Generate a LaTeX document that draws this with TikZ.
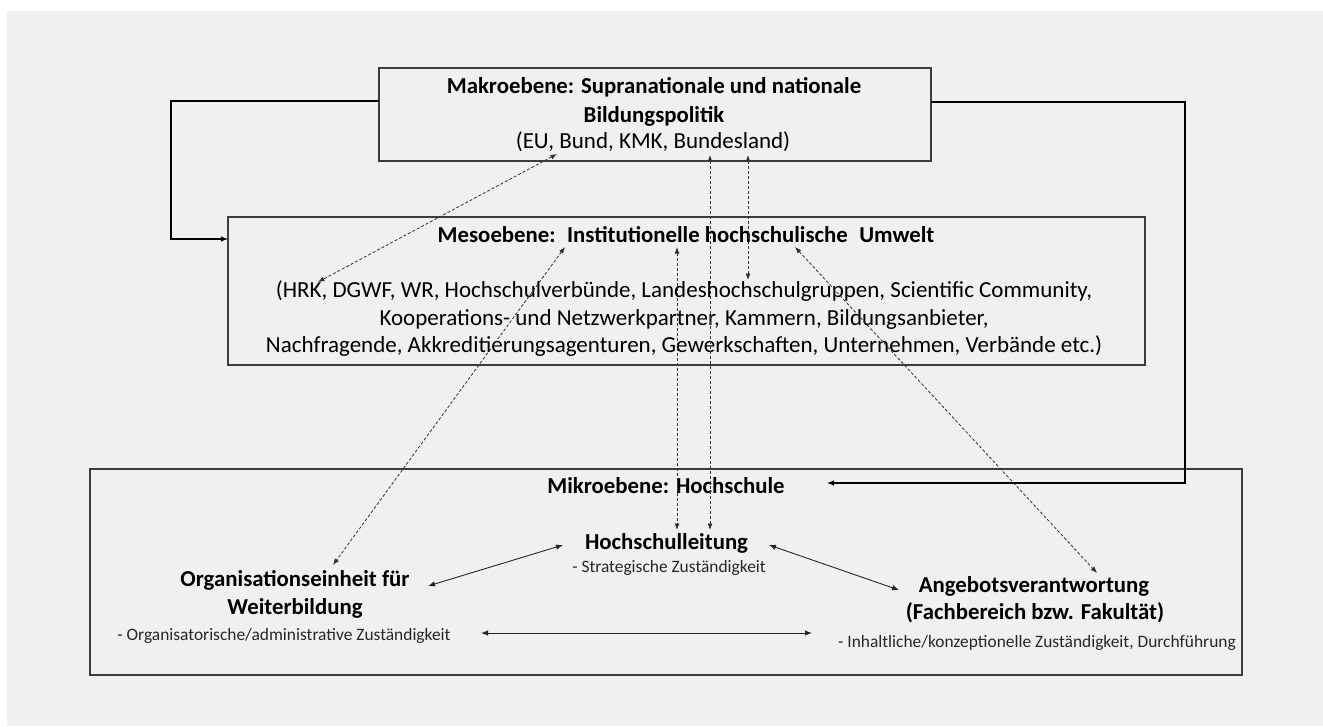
\documentclass[tikz,border=0pt]{standalone}
\usepackage{fontspec}
\setmainfont{Carlito}
\usetikzlibrary{arrows.meta}
\definecolor{bg}{HTML}{F0F0F0}
\definecolor{edge}{HTML}{3C3C3C}
\definecolor{dash}{HTML}{303030}
\begin{document}
\begin{tikzpicture}[x=1pt,y=-1pt,
  levelbox/.style={draw=edge,line width=1.1pt,inner sep=0,outer sep=0},
  bigb/.style={font=\fontsize{22.8}{27}\selectfont\bfseries,inner sep=0,anchor=base},
  big/.style={font=\fontsize{23}{27}\selectfont,inner sep=0,anchor=base},
  small/.style={font=\fontsize{17.4}{20}\selectfont,text=black!85,inner sep=0,anchor=base},
  conn/.style={draw=black,line width=1.1pt},
  solidarrow/.style={draw=black!85,line width=0.9pt,{Latex[length=7pt,width=5.5pt]}-{Latex[length=7pt,width=5.5pt]}},
  dasharrow/.style={draw=dash,line width=0.8pt,dash pattern=on 3pt off 2pt,{Latex[length=6.5pt,width=5pt]}-{Latex[length=6.5pt,width=5pt]}}
]
\useasboundingbox (0,0) rectangle (1323,726);
\fill[white] (0,0) rectangle (1323,726);
\fill[bg] (7,11) rectangle (1323,726);

% level boxes
\node[levelbox,minimum width=552pt,minimum height=93pt] (makro) at (655,114.5) {};
\node[levelbox,minimum width=917pt,minimum height=148pt] (meso) at (686.5,291) {};
\node[levelbox,minimum width=1152pt,minimum height=206pt] (mikro) at (666,572) {};

% Makro texts
\node[bigb] (mk1) at (654,93) {Makroebene: Supranationale und nationale};
\node[bigb] (mk2) at (654,122) {Bildungspolitik};
\node[big] (mk3) at (653,148) {(EU, Bund, KMK, Bundesland)};

% Meso texts
\node[bigb] (ms1) at (686,242) {Mesoebene:\hspace{0.5em}Institutionelle hochschulische\hspace{0.5em}Umwelt};
\node[big] (ms2) at (684,297) {(HRK, DGWF, WR, Hochschulverbünde, Landeshochschulgruppen, Scientific Community,};
\node[big] (ms3) at (684,325) {Kooperations- und Netzwerkpartner, Kammern, Bildungsanbieter,};
\node[big] (ms4) at (684,352) {Nachfragende, Akkreditierungsagenturen, Gewerkschaften, Unternehmen, Verbände etc.)};

% Mikro texts
\node[bigb] (mi1) at (666,493) {Mikroebene: Hochschule};
\node[bigb] (hl1) at (666.5,549) {Hochschulleitung};
\node[small] (hl2) at (669,572) {- Strategische Zuständigkeit};
\node[bigb] (org1) at (295,586) {Organisationseinheit für};
\node[bigb] (org2) at (295,614) {Weiterbildung};
\node[small] (org3) at (284,640) {- Organisatorische/administrative Zuständigkeit};
\node[bigb] (ang1) at (1034,592) {Angebotsverantwortung};
\node[bigb] (ang2) at (1035,619) {(Fachbereich bzw. Fakultät)};
\node[small] (ang3) at (1037,647) {- Inhaltliche/konzeptionelle Zuständigkeit, Durchführung};

% arrow end points
\coordinate (mikroIn) at (827,483);
\coordinate (mkA) at (557,154);
\coordinate (msA) at (318,282);
\coordinate (msB) at (565,247);
\coordinate (orgA) at (333,565);
\coordinate (msC) at (677,247);
\coordinate (hlA) at (677,530);
\coordinate (mkB) at (710,155);
\coordinate (hlB) at (710,530);
\coordinate (mkC) at (748,155);
\coordinate (msD) at (748,280);
\coordinate (msE) at (795,247);
\coordinate (angA) at (1097,573);
\coordinate (orgB) at (428,586);
\coordinate (hlC) at (563,545);
\coordinate (hlD) at (769,545);
\coordinate (angB) at (899,590);
\coordinate (orgC) at (481,633);
\coordinate (angC) at (812,633);

% feedback connectors
\draw[conn,-{Latex[length=7pt,width=5.5pt]}] ([yshift=13.5pt]makro.west) -- ++(-208,0) |- ([yshift=52pt]meso.west);
\draw[conn,-{Latex[length=7pt,width=5.5pt]}] ([yshift=12.5pt]makro.east) -- ++(254,0) |- (mikroIn);

% dashed relations
\draw[dasharrow] (mkA) -- (msA);
\draw[dasharrow] (msB) -- (orgA);
\draw[dasharrow] (msC) -- (hlA);
\draw[dasharrow] (mkB) -- (hlB);
\draw[dasharrow] (mkC) -- (msD);
\draw[dasharrow] (msE) -- (angA);

% solid relations in Mikro level
\draw[solidarrow] (orgB) -- (hlC);
\draw[solidarrow] (hlD) -- (angB);
\draw[solidarrow] (orgC) -- (angC);
\end{tikzpicture}
\end{document}
